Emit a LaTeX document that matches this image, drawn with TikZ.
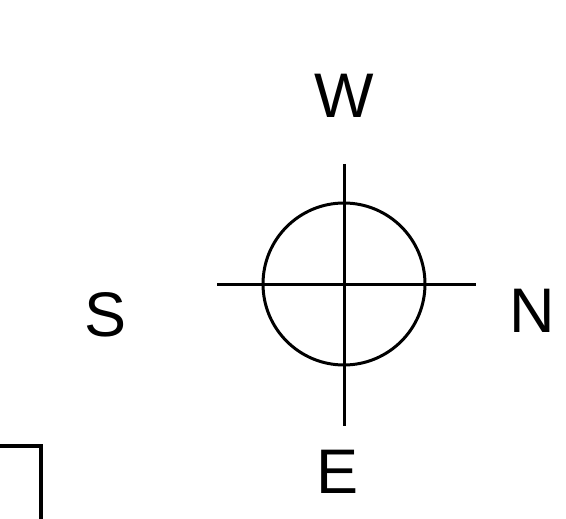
\documentclass[tikz,border=0pt]{standalone}
\usepackage{fontspec}
\setmainfont{Liberation Sans}
\usetikzlibrary{positioning}

\begin{document}
\begin{tikzpicture}[x=1pt,y=-1pt,
  dirlabel/.style={inner sep=0pt,font=\fontsize{63}{70}\selectfont}]
\useasboundingbox (0,0) rectangle (566,519);
% compass
\node[draw,circle,line width=3pt,minimum size=162pt,inner sep=0pt] (dial) at (344,284) {};
\coordinate (west end) at (217,284);
\coordinate (east end) at (476,284);
\coordinate (top end) at (344,164);
\coordinate (bottom end) at (344,426);
\draw[line width=3pt] (west end) -- (east end);
\draw[line width=3pt] (top end) -- (bottom end);
% letters
\node[dirlabel] (w) at (344,96) {W};
\node[dirlabel] (s) at (105.5,314.5) {S};
\node[dirlabel] (n) at (532.5,310.5) {N};
\node[dirlabel] (e) at (337.5,471.5) {E};
% box corner
\draw[line width=4pt] (-5,446) -- (41,446) -- (41,525);
\end{tikzpicture}
\end{document}
